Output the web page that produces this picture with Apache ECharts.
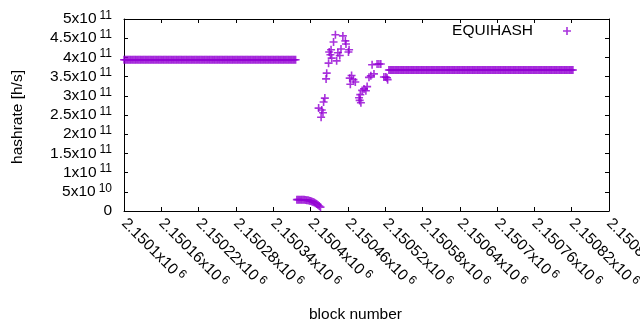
<!DOCTYPE html>
<html>
<head>
<meta charset="utf-8">
<script src="https://cdn.jsdelivr.net/npm/echarts@6/dist/echarts.min.js"></script>
<style>
html, body { margin: 0; padding: 0; background: #fff; }
#chart { width: 640px; height: 330px; }
</style>
</head>
<body>
<div id="chart"></div>
<script>
const seriesName = 'EQUIHASH'
const blockBase = 2150000

// long flat stretch before the drop (offsets from blockBase)
const runAOffsets = [
  100, 102, 104, 106, 108, 110, 112, 114, 116, 118,
  120, 122, 124, 126, 128, 130, 132, 134, 136, 138,
  140, 142, 144, 146, 148, 150, 152, 154, 156, 158,
  160, 162, 164, 166, 168, 170, 172, 174, 176, 178,
  180, 182, 184, 186, 188, 190, 192, 194, 196, 198,
  200, 202, 204, 206, 208, 210, 212, 214, 216, 218,
  220, 222, 224, 226, 228, 230, 232, 234, 236, 238,
  240, 242, 244, 246, 248, 250, 252, 254, 256, 258,
  260, 262, 264, 266, 268, 270, 272, 274, 276, 278,
  280, 282, 284, 286, 288, 290, 292, 294, 296, 298,
  300, 302, 304, 306, 308, 310, 312, 314, 316, 318,
  320, 322, 324, 326, 328, 330, 332, 334, 336, 338,
  340, 342, 344, 346, 348, 350, 352, 354, 356, 358,
  360, 362, 364, 366, 368, 370, 372, 374, 376
]
const runAValue = 3.94e11

// low curve falling towards zero
const dropOffsets = [378, 380, 382, 384, 386, 388, 390, 392, 394, 396, 398, 400, 402, 404, 406, 408, 410, 412, 414, 416]
const dropValues = [2.95e10, 2.95e10, 2.95e10, 2.94e10, 2.93e10, 2.92e10, 2.9e10, 2.87e10, 2.82e10, 2.77e10,
  2.7e10, 2.61e10, 2.5e10, 2.36e10, 2.2e10, 2.01e10, 1.8e10, 1.58e10, 1.3e10, 1.0e10]

// scattered burst
const burstOffsets = [413, 417, 418, 420, 421, 423, 425, 426, 429, 430, 432, 433, 434, 437, 440, 442, 444, 447, 449, 452,
  456, 457, 461, 462, 463, 464, 466, 469, 472, 478, 479, 480, 481, 483, 486, 489, 491, 494, 497, 499,
  502, 507, 510, 513, 518, 521, 523, 524]
const burstValues = [2.68e11, 2.44e11, 2.63e11, 2.56e11, 2.84e11, 2.94e11, 3.44e11, 3.59e11, 3.85e11, 4.14e11,
  4.07e11, 4.2e11, 3.98e11, 4.4e11, 4.59e11, 3.91e11, 4.12e11, 4.05e11, 4.22e11, 4.56e11,
  4.43e11, 4.35e11, 4.14e11, 4.2e11, 3.46e11, 3.3e11, 3.53e11, 3.42e11, 3.36e11, 2.95e11,
  2.88e11, 3.03e11, 2.82e11, 3.14e11, 3.18e11, 3.13e11, 3.24e11, 3.48e11, 3.52e11, 3.81e11,
  3.57e11, 3.83e11, 3.83e11, 3.83e11, 3.49e11, 3.49e11, 3.47e11, 3.42e11]

// second flat stretch
const runBOffsets = [
  526, 528, 530, 532, 534, 536, 538, 540, 542, 544, 546, 548, 550, 552, 554, 556, 558, 560, 562, 564,
  566, 568, 570, 572, 574, 576, 578, 580, 582, 584, 586, 588, 590, 592, 594, 596, 598,
  600, 602, 604, 606, 608, 610, 612, 614, 616, 618, 620, 622, 624, 626, 628, 630, 632, 634, 636, 638,
  640, 642, 644, 646, 648, 650, 652, 654, 656, 658, 660, 662, 664, 666, 668, 670, 672, 674, 676, 678,
  680, 682, 684, 686, 688, 690, 692, 694, 696, 698,
  700, 702, 704, 706, 708, 710, 712, 714, 716, 718, 720, 722, 724, 726, 728, 730, 732, 734, 736, 738,
  740, 742, 744, 746, 748, 750, 752, 754, 756, 758, 760, 762, 764, 766, 768, 770, 772, 774, 776, 778,
  780, 782, 784, 786, 788, 790, 792, 794, 796, 798,
  800, 802, 804, 806, 808, 810, 812, 814, 816, 818, 820, 822
]
const runBValue = 3.67e11

// axis ranges / tick steps
const xMin = 2150100
const xMax = 2150880
const xStep = 60
const yMin = 0
const yMax = 5e11
const yStep = 5e10

const font = '"Liberation Sans", Arial, sans-serif'
const purple = '#9400d3'
const plusPath = 'path://M4,0H6V4H10V6H6V10H4V6H0V4H4Z'

function sciLabel(v, digits) {
  if (v === 0) return '0'
  const exp = Math.floor(Math.log10(v) + 1e-9)
  const mant = parseFloat((v / Math.pow(10, exp)).toFixed(digits))
  return '{b|' + mant + 'x10}{s|' + exp + '}'
}

const points = []
runAOffsets.forEach((o) => points.push([blockBase + o, runAValue]))
dropOffsets.forEach((o, i) => points.push([blockBase + o, dropValues[i]]))
burstOffsets.forEach((o, i) => points.push([blockBase + o, burstValues[i]]))
runBOffsets.forEach((o) => points.push([blockBase + o, runBValue]))

const rich = {
  b: { fontSize: 15.5, fontFamily: font, color: '#000' },
  s: { fontSize: 12, fontFamily: font, color: '#000', padding: [0, 0, 7, 3] },
}
function ticks() {
  return { show: true, inside: true, length: 4, lineStyle: { color: '#000', width: 1 } }
}
function frameLine() {
  return { show: true, onZero: false, lineStyle: { color: '#000', width: 1 } }
}

const myChart = echarts.init(document.getElementById('chart'))
myChart.setOption({
  backgroundColor: '#fff',
  animation: false,
  grid: { left: 124, right: 31, top: 19, bottom: 119, outerBoundsMode: 'none' },
  legend: {
    data: [seriesName],
    right: 69,
    top: 23,
    padding: 0,
    align: 'right',
    itemWidth: 8,
    itemHeight: 8,
    selectedMode: false,
    textStyle: { fontSize: 15.5, fontFamily: font, color: '#000', padding: [0, 25, 0, 0] },
  },
  xAxis: [
    {
      type: 'value',
      min: xMin,
      max: xMax,
      interval: xStep,
      name: 'block number',
      nameLocation: 'middle',
      nameGap: 96,
      nameTextStyle: { fontSize: 15.5, fontFamily: font, color: '#000', padding: [0, 22, 0, 0] },
      axisLine: frameLine(),
      axisTick: ticks(),
      splitLine: { show: false },
      axisLabel: {
        rotate: -45,
        margin: 10,
        formatter: (v) => sciLabel(v, 5),
        rich: rich,
      },
    },
    {
      // mirrored ticks along the top border
      type: 'value',
      position: 'top',
      min: xMin,
      max: xMax,
      interval: xStep,
      axisLine: frameLine(),
      axisTick: ticks(),
      axisLabel: { show: false },
      splitLine: { show: false },
    },
  ],
  yAxis: [
    {
      type: 'value',
      min: yMin,
      max: yMax,
      interval: yStep,
      name: 'hashrate [h/s]',
      nameLocation: 'middle',
      nameGap: 98,
      nameTextStyle: { fontSize: 15.5, fontFamily: font, color: '#000', padding: [0, 4, 0, 0] },
      axisLine: frameLine(),
      axisTick: ticks(),
      splitLine: { show: false },
      axisLabel: {
        margin: 12,
        fontSize: 15.5,
        fontFamily: font,
        color: '#000',
        formatter: (v) => sciLabel(v, 2),
        rich: rich,
      },
    },
    {
      // mirrored ticks along the right border
      type: 'value',
      position: 'right',
      min: yMin,
      max: yMax,
      interval: yStep,
      axisLine: frameLine(),
      axisTick: ticks(),
      axisLabel: { show: false },
      splitLine: { show: false },
    },
  ],
  series: [
    {
      name: seriesName,
      type: 'scatter',
      symbol: plusPath,
      symbolSize: 8,
      clip: false,
      itemStyle: { color: purple },
      data: points,
    },
  ],
})
</script>
</body>
</html>
